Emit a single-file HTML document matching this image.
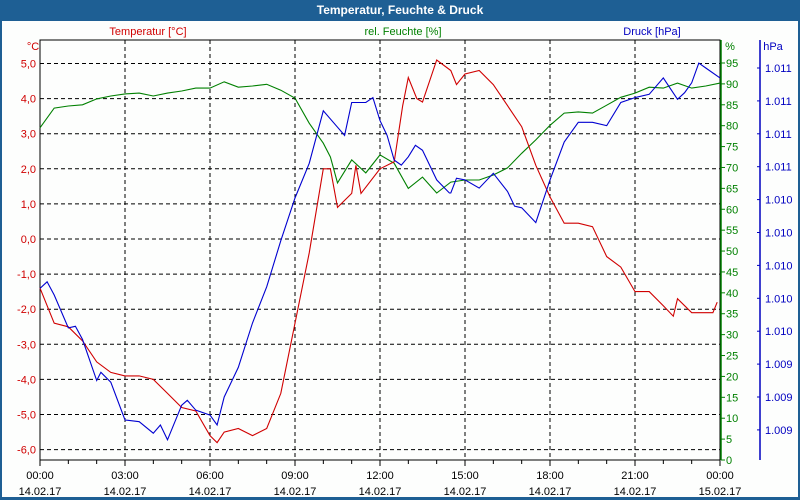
<!DOCTYPE html>
<html><head><meta charset="utf-8"><style>
html,body{margin:0;padding:0;background:#fff;}
#wrap{position:relative;width:800px;height:500px;overflow:hidden;font-family:"Liberation Sans",sans-serif;}
svg text{font-family:"Liberation Sans",sans-serif;font-size:11px;}
</style></head><body>
<div id="wrap">
<svg id="chart" width="800" height="500">
  <rect x="0" y="0" width="800" height="500" fill="#1e5f94"/>
  <rect x="2" y="21" width="796" height="476" fill="#fdfefd"/>
  <text x="400" y="14" text-anchor="middle" fill="#fff" font-weight="bold" style="font-size:12px">Temperatur, Feuchte &amp; Druck</text>
  <text x="148" y="35" text-anchor="middle" fill="#d00000">Temperatur [°C]</text>
  <text x="403" y="35" text-anchor="middle" fill="#008000">rel. Feuchte [%]</text>
  <text x="652" y="35" text-anchor="middle" fill="#0000c0">Druck [hPa]</text>
  <text x="33" y="50" text-anchor="middle" fill="#d00000">°C</text>
  <text x="730" y="50" text-anchor="middle" fill="#008000">%</text>
  <text x="773" y="50" text-anchor="middle" fill="#0000c0">hPa</text>
  <g id="grid"></g>
  <g id="axes"></g>
  <g id="series"></g>
</svg>
</div>
<script>
// ---- data ----
const tempTicks = [5,4,3,2,1,0,-1,-2,-3,-4,-5,-6];
const tempTickLabels = ["5,0","4,0","3,0","2,0","1,0","0,0","-1,0","-2,0","-3,0","-4,0","-5,0","-6,0"];
const humTicks = [0,5,10,15,20,25,30,35,40,45,50,55,60,65,70,75,80,85,90,95];
const pressTickLabels = ["1.011","1.011","1.011","1.011","1.010","1.010","1.010","1.010","1.010","1.009","1.009","1.009"];
const timeTickHours = [0,3,6,9,12,15,18,21,24];
const timeTickLabels = ["00:00","03:00","06:00","09:00","12:00","15:00","18:00","21:00","00:00"];
const dateTickLabels = ["14.02.17","14.02.17","14.02.17","14.02.17","14.02.17","14.02.17","14.02.17","14.02.17","15.02.17"];

const tempHours = [0,0.5,1,1.5,2,2.5,3,3.5,4,4.5,5,5.5,6,6.25,6.5,7,7.5,8,8.5,9,9.5,10,10.25,10.5,11,11.15,11.33,12,12.5,12.8,13,13.3,13.5,14,14.5,14.7,15,15.5,16,16.5,17,17.5,18,18.5,19,19.5,20,20.5,21,21.5,22,22.35,22.5,23,23.5,23.75,23.9];
const tempValues = [-1.4,-2.4,-2.5,-2.9,-3.5,-3.8,-3.9,-3.9,-4.0,-4.4,-4.8,-4.9,-5.6,-5.8,-5.5,-5.4,-5.6,-5.4,-4.4,-2.4,-0.4,2.0,2.0,0.9,1.3,2.1,1.3,2.0,2.2,3.8,4.6,4.0,3.9,5.1,4.8,4.4,4.7,4.8,4.4,3.8,3.2,2.1,1.2,0.45,0.45,0.35,-0.5,-0.8,-1.5,-1.5,-1.9,-2.2,-1.7,-2.1,-2.1,-2.1,-1.8];

const humHours = [0,0.5,1,1.5,2,2.5,3,3.5,4,4.5,5,5.5,6,6.5,7,7.5,8,8.5,9,9.5,10,10.25,10.5,11,11.5,12,12.5,13,13.5,14,14.5,15,15.5,16,16.5,17,17.5,18,18.5,19,19.5,20,20.5,21,21.5,22,22.5,23,23.5,24];
const humValues = [79.5,84.2,84.7,85,86.4,87.1,87.6,87.8,87.1,87.8,88.3,89,89,90.5,89.2,89.5,89.9,88.5,86.6,80.6,75.8,72.5,66.3,71.8,68.7,73,71,65,67.7,63.9,66.5,67,67,68.2,69.9,73.4,76.6,80.1,83,83.3,83,84.9,86.8,87.8,89.2,89,90.2,89,89.5,90.2];

const pressHours = [0,0.25,0.5,1,1.25,1.5,2,2.15,2.5,3,3.5,4,4.25,4.5,5,5.2,5.5,6,6.25,6.5,7,7.5,8,8.5,9,9.5,10,10.5,10.75,11,11.5,11.75,12,12.25,12.5,12.75,13,13.25,13.5,14,14.45,14.5,14.7,15,15.5,16,16.5,16.75,17,17.5,18,18.5,19,19.5,20,20.5,21,21.5,22,22.5,22.75,23,23.25,23.5,24];
const pressValues = [1009.96,1010.0,1009.92,1009.72,1009.73,1009.65,1009.40,1009.45,1009.39,1009.16,1009.15,1009.08,1009.13,1009.04,1009.25,1009.28,1009.22,1009.19,1009.13,1009.30,1009.48,1009.75,1009.97,1010.25,1010.51,1010.72,1011.04,1010.94,1010.89,1011.09,1011.09,1011.12,1010.98,1010.89,1010.74,1010.71,1010.76,1010.83,1010.80,1010.62,1010.54,1010.54,1010.63,1010.62,1010.57,1010.66,1010.55,1010.46,1010.45,1010.36,1010.62,1010.85,1010.97,1010.97,1010.95,1011.09,1011.12,1011.14,1011.24,1011.11,1011.15,1011.21,1011.33,1011.30,1011.24];

// ---- scales ----
const X0 = 40, X1 = 720, Y0 = 40, Y1 = 460;
const xOf = h => X0 + h * (X1 - X0) / 24;
const yTemp = v => 63.5 + (5 - v) * 35.1;
const yHum = v => 460 - v * 4.179;
const yPress = v => 68 + (1011.3 - v) / 0.2 * 32.9;
const pressTickY = i => 68 + i * 32.9;

const NS = "http://www.w3.org/2000/svg";
function mk(tag, attrs, parent) {
  const e = document.createElementNS(NS, tag);
  for (const k in attrs) e.setAttribute(k, attrs[k]);
  parent.appendChild(e);
  return e;
}
const grid = document.getElementById('grid');
const axes = document.getElementById('axes');
const series = document.getElementById('series');

// horizontal grid + temp labels
tempTicks.forEach((v, i) => {
  const y = yTemp(v);
  const l = mk('line', {x1: X0, x2: X1, y1: y, y2: y, stroke: '#000', 'stroke-dasharray': '4,3', 'stroke-width': 1}, grid);
  
  
  const t = mk('text', {x: 36, y: y + 4, 'text-anchor': 'end', fill: '#d00000'}, axes);
  t.textContent = tempTickLabels[i];
  
  
});
// vertical grid + x labels
timeTickHours.forEach((h, i) => {
  const x = xOf(h);
  if (i > 0 && i < timeTickHours.length - 1) {
    const l = mk('line', {x1: x, x2: x, y1: Y0, y2: Y1, stroke: '#000', 'stroke-dasharray': '4,3', 'stroke-width': 1}, grid);
    
    
  }
  const t = mk('text', {x: x, y: 479, 'text-anchor': 'middle', fill: '#000'}, axes);
  t.textContent = timeTickLabels[i];
  
  
  const d = mk('text', {x: x, y: 495, 'text-anchor': 'middle', fill: '#000'}, axes);
  d.textContent = dateTickLabels[i];
  
  
});
// hourly minor ticks
for (let h = 0; h <= 24; h++) {
  const x = xOf(h);
  const tk = mk('line', {x1: x, x2: x, y1: Y1, y2: Y1 + (h % 3 === 0 ? 6 : 4), stroke: '#000'}, axes);
  
  
}
// plot frame
const fr = mk('rect', {x: X0, y: Y0, width: X1 - X0, height: Y1 - Y0, fill: 'none', stroke: '#000'}, axes);


// humidity axis
const ha = mk('line', {x1: 721, x2: 721, y1: Y0, y2: Y1, stroke: '#008000', 'stroke-width': 1.5}, axes);


humTicks.forEach(v => {
  const y = yHum(v);
  const tk = mk('line', {x1: 721, x2: 725, y1: y, y2: y, stroke: '#008000'}, axes);
  
  
  const t = mk('text', {x: 726, y: y + 4, fill: '#008000'}, axes);
  t.textContent = String(v);
  
  
});
// pressure axis
const pa = mk('line', {x1: 760, x2: 760, y1: Y0, y2: Y1, stroke: '#0000c0', 'stroke-width': 1.5}, axes);


pressTickLabels.forEach((s, i) => {
  const y = pressTickY(i);
  const tk = mk('line', {x1: 757, x2: 760, y1: y, y2: y, stroke: '#0000c0'}, axes);
  
  
  const t = mk('text', {x: 765, y: y + 4, fill: '#0000c0'}, axes);
  t.textContent = s;
  
  
});
// series
function line(hours, vals, yf, color, name) {
  const pts = hours.map((h, i) => xOf(h).toFixed(1) + ',' + yf(vals[i]).toFixed(1)).join(' ');
  const p = mk('polyline', {points: pts, fill: 'none', stroke: color, 'stroke-width': 1.1}, series);
  
  
}
line(humHours, humValues, yHum, '#008000', 'humidity-line');
line(tempHours, tempValues, yTemp, '#d00000', 'temperature-line');
line(pressHours, pressValues, yPress, '#0000d0', 'pressure-line');
</script>
</body></html>
